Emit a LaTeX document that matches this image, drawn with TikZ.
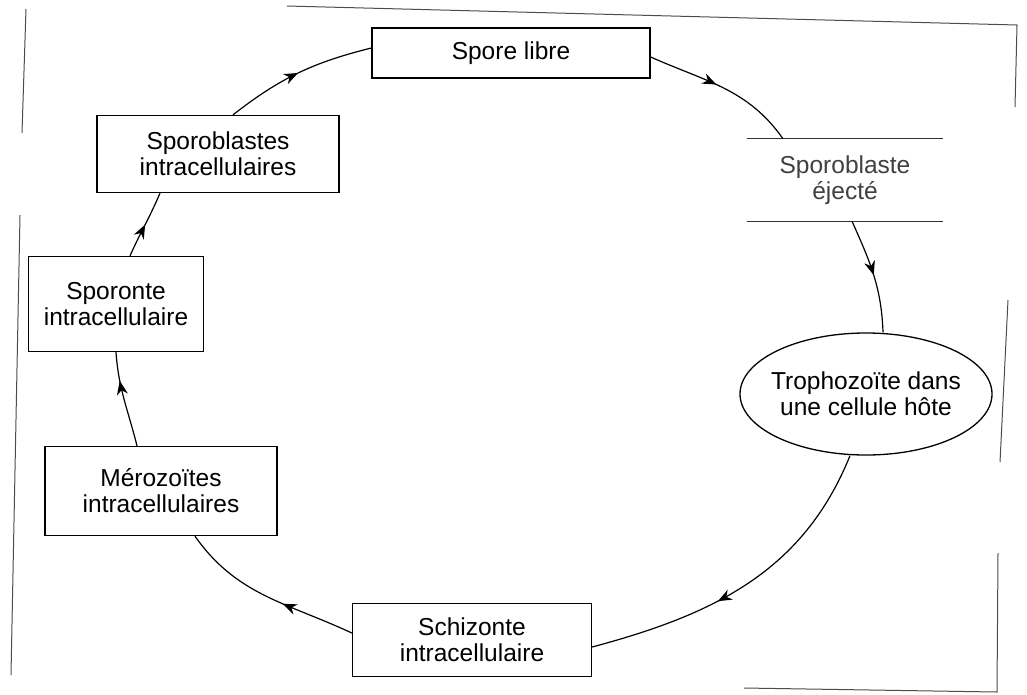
\documentclass[tikz,border=0pt]{standalone}
\usepackage{fontspec}
\setmainfont{Liberation Sans}
\usetikzlibrary{arrows.meta,decorations.markings,shapes.geometric}
\begin{document}
\begin{tikzpicture}[x=1pt,y=1pt,
  lbl/.style={inner sep=0pt, align=center, font=\fontsize{24.5}{26}\selectfont},
  stagebox/.style={lbl, draw, line width=1.3pt},
  openbox/.style={lbl, text=black!75},
  stageell/.style={lbl, draw, ellipse, line width=1.3pt, inner xsep=-30pt, inner ysep=-10pt},
  cyc/.style={line width=1.2pt, postaction={decorate},
    decoration={markings, mark=at position #1 with {\arrow{Stealth[length=14pt,width=11pt,inset=4.5pt]}}}},
  cyc/.default=0.5,
  frameline/.style={line width=1pt, black!70},
  openline/.style={line width=1pt, black!80}
]
\useasboundingbox (0,0) rectangle (1027,-694);

% frame of the scanned page
\draw[frameline] (287,-6) -- (1017,-25) -- (1015,-107);
\draw[frameline] (1008,-300) -- (1000,-462);
\draw[frameline] (744,-688) -- (997,-692) -- (998,-553);
\draw[frameline] (26,-9) -- (22,-133);
\draw[frameline] (20,-215) -- (11,-675);

% stages
\node[stagebox, minimum width=278pt, minimum height=50pt] (sl) at (511,-53) {Spore libre};
\node[openbox, minimum width=196pt, minimum height=82pt] (se) at (845,-180) {Sporoblaste\\éjecté};
\draw[openline] (se.north west) -- (se.north east);
\draw[openline] (se.south west) -- (se.south east);
\node[stageell, minimum width=252pt, minimum height=122pt] (tr) at (866,-394) {Trophozoïte dans\\une cellule hôte};
\node[stagebox, minimum width=239pt, minimum height=73pt] (sc) at (472,-640) {Schizonte\\intracellulaire};
\node[stagebox, minimum width=232pt, minimum height=89pt] (me) at (161,-491) {Mérozoïtes\\intracellulaires};
\node[stagebox, minimum width=175pt, minimum height=95pt] (sp) at (116,-304) {Sporonte\\intracellulaire};
\node[stagebox, minimum width=242pt, minimum height=77pt] (sb) at (218,-154) {Sporoblastes\\intracellulaires};

% cycle
\draw[cyc] ([xshift=15pt]sb.north) to[out=38,in=194] ([yshift=5pt]sl.west);
\draw[cyc=0.45] ([yshift=-4pt]sl.east) to[out=-24,in=125] ([xshift=-62pt]se.north);
\draw[cyc] ([xshift=7pt]se.south) to[out=-66,in=92] ([xshift=17pt]tr.north);
\draw[cyc=0.6] ([xshift=-16pt]tr.south) to[out=-112,in=15] ([yshift=-7pt]sc.east);
\draw[cyc=0.4] ([yshift=7pt]sc.west) to[out=155,in=-55] ([xshift=34pt]me.south);
\draw[cyc=0.7] ([xshift=-24pt]me.north) to[out=104,in=-86] (sp.south);
\draw[cyc] ([xshift=14pt]sp.north) to[out=66,in=-113] ([xshift=-58pt]sb.south);
\end{tikzpicture}
\end{document}
